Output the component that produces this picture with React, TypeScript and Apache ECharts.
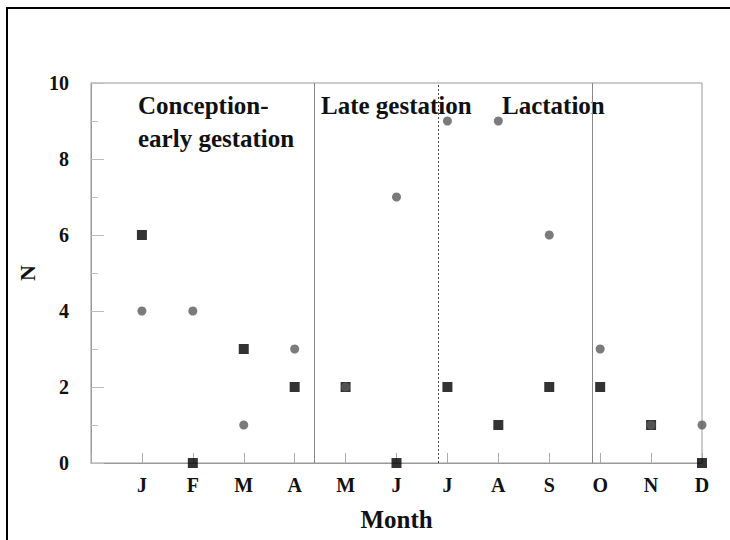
import React, { useEffect, useRef } from "react";
import * as echarts from "echarts";

const monthLabels = ["J", "F", "M", "A", "M", "J", "J", "A", "S", "O", "N", "D"];
const monthIndex = [1, 2, 3, 4, 5, 6, 7, 8, 9, 10, 11, 12];
const squareValues = [6, 0, 3, 2, 2, 0, 2, 1, 2, 2, 1, 0];
const circleValues = [4, 4, 1, 3, 2, 7, 9, 9, 6, 3, 1, 1];
const yTicks = [0, 2, 4, 6, 8, 10];
const periodDividers = [4.38, 6.82, 9.84];
const periodNames = ["Conception-\nearly gestation", "Late gestation", "Lactation"];

const FONT = '"Liberation Serif", "Times New Roman", serif';

export default function App() {
  const ref = useRef<HTMLDivElement>(null);
  useEffect(() => {
    document.body.style.margin = "0";
    const chart = echarts.init(ref.current!, undefined, { renderer: "svg" });
    const squares = monthIndex.map((m, i) => [m, squareValues[i]]);
    const circles = monthIndex.map((m, i) => [m, circleValues[i]]);
    const dividerStyles = [
      { color: "#888", type: "solid", width: 1 },
      { color: "#444", type: [2, 2], width: 1 },
      { color: "#888", type: "solid", width: 1 },
    ];
    chart.setOption({
      animation: false,
      backgroundColor: "#ffffff",
      textStyle: { fontFamily: FONT },
      grid: {
        left: 91,
        top: 83,
        width: 611,
        height: 380,
        show: true,
        borderColor: "#999",
        borderWidth: 1,
        backgroundColor: "transparent",
      },
      xAxis: {
        type: "value",
        min: 0,
        max: 12,
        interval: 1,
        name: "Month",
        nameLocation: "middle",
        nameGap: 44,
        nameTextStyle: { fontFamily: FONT, fontWeight: "bold", fontSize: 25, color: "#111" },
        axisLine: { lineStyle: { color: "#999", width: 1 } },
        axisTick: { inside: true, length: 10, lineStyle: { color: "#aaa" } },
        splitLine: { show: false },
        axisLabel: {
          margin: 12,
          fontFamily: FONT,
          fontWeight: "bold",
          fontSize: 20,
          color: "#111",
          formatter: (v: number) => (v >= 1 && v <= 12 ? monthLabels[v - 1] : ""),
        },
      },
      yAxis: {
        type: "value",
        min: yTicks[0],
        max: yTicks[yTicks.length - 1],
        interval: 2,
        name: "N",
        nameLocation: "middle",
        nameRotate: 90,
        nameGap: 48,
        nameTextStyle: { fontFamily: FONT, fontWeight: "bold", fontSize: 22, color: "#111" },
        axisLine: { show: true, lineStyle: { color: "#999", width: 1 } },
        axisTick: { show: true, inside: true, length: 13, lineStyle: { color: "#bbb" } },
        minorTick: { show: true, splitNumber: 2, length: 7, lineStyle: { color: "#bbb" } },
        splitLine: { show: false },
        axisLabel: {
          margin: 22,
          fontFamily: FONT,
          fontWeight: "bold",
          fontSize: 20,
          color: "#111",
        },
      },
      graphic: [
        {
          type: "rect",
          shape: { x: 7, y: 8, width: 1000, height: 1000 },
          style: { fill: "none", stroke: "#000", lineWidth: 2 },
          silent: true,
        },
        {
          type: "text",
          left: 138,
          top: 89,
          style: {
            text: periodNames[0],
            font: `bold 25px ${FONT}`,
            fill: "#111",
            lineHeight: 33,
          },
        },
        {
          type: "text",
          left: 321,
          top: 89,
          style: { text: periodNames[1], font: `bold 25px ${FONT}`, fill: "#111", lineHeight: 33 },
        },
        {
          type: "text",
          left: 502,
          top: 89,
          style: { text: periodNames[2], font: `bold 25px ${FONT}`, fill: "#111", lineHeight: 33 },
        },
      ],
      series: [
        {
          type: "scatter",
          name: "dividers",
          data: [],
          markLine: {
            silent: true,
            symbol: ["none", "none"],
            label: { show: false },
            data: periodDividers.map((x, i) => ({ xAxis: x, lineStyle: dividerStyles[i] })),
          },
        },
        {
          type: "scatter",
          name: "squares",
          symbol: "rect",
          symbolSize: 10,
          itemStyle: { color: "#000" },
          clip: false,
          data: squares,
        },
        {
          type: "scatter",
          name: "circles",
          symbol: "circle",
          symbolSize: 9,
          itemStyle: { color: "#5a5a5a" },
          clip: false,
          data: circles,
        },
      ],
    });
    return () => chart.dispose();
  }, []);
  return <div ref={ref} style={{ width: 730, height: 540 }} />;
}
